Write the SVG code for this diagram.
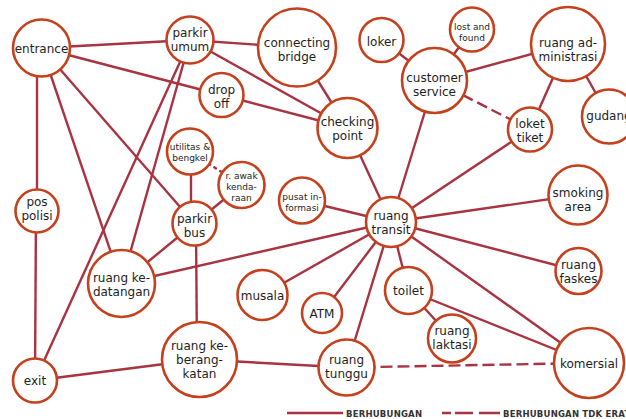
<svg xmlns="http://www.w3.org/2000/svg" width="626" height="419" viewBox="0 0 626 419">
<style>
.e{stroke:#a83341;stroke-width:2.4;fill:none}
.d{stroke-dasharray:11 5}
.n circle{fill:#fff;stroke:#c5401d;stroke-width:2.6}
text{font-family:"DejaVu Sans","Noto Sans",sans-serif;font-size:12px;text-anchor:middle;fill:#1e1e1e}
.s{font-size:9px}
.lg{font-size:8.5px;font-weight:bold;text-anchor:start;letter-spacing:0.2px;fill:#333}
</style>
<rect width="626" height="419" fill="#fff"/>
<g id="connectors">
<line class="e" x1="41.5" y1="48" x2="190" y2="40"/>
<line class="e" x1="41.5" y1="48" x2="221.5" y2="95"/>
<line class="e" x1="37" y1="48" x2="37" y2="211"/>
<line class="e" x1="41.5" y1="48" x2="121.5" y2="283.5"/>
<line class="e" x1="41.5" y1="48" x2="194.5" y2="223.5"/>
<line class="e" x1="190" y1="40" x2="297" y2="47.5"/>
<line class="e" x1="190" y1="40" x2="347.5" y2="128"/>
<line class="e" x1="190" y1="40" x2="35" y2="380.5"/>
<line class="e" x1="190" y1="40" x2="121.5" y2="283.5"/>
<line class="e" x1="297" y1="47.5" x2="347.5" y2="128"/>
<line class="e" x1="221.5" y1="95" x2="347.5" y2="128"/>
<line class="e" x1="347.5" y1="128" x2="391" y2="222"/>
<line class="e" x1="381.5" y1="40" x2="434.5" y2="80.5"/>
<line class="e" x1="472" y1="29.5" x2="434.5" y2="80.5"/>
<line class="e" x1="434.5" y1="80.5" x2="568" y2="44"/>
<line class="e d" x1="434.5" y1="80.5" x2="530" y2="129.5"/>
<line class="e" x1="434.5" y1="80.5" x2="391" y2="222"/>
<line class="e" x1="568" y1="44" x2="530" y2="129.5"/>
<line class="e" x1="568" y1="44" x2="609" y2="116.5"/>
<line class="e" x1="530" y1="129.5" x2="391" y2="222"/>
<line class="e" x1="578" y1="195" x2="391" y2="222"/>
<line class="e" x1="578.5" y1="271" x2="391" y2="222"/>
<line class="e" x1="589" y1="363" x2="391" y2="222"/>
<line class="e" x1="408.5" y1="290.5" x2="391" y2="222"/>
<line class="e" x1="408.5" y1="290.5" x2="589" y2="363"/>
<line class="e" x1="408.5" y1="290.5" x2="452" y2="338.5"/>
<line class="e" x1="322" y1="313" x2="391" y2="222"/>
<line class="e" x1="346.5" y1="367.5" x2="391" y2="222"/>
<line class="e" x1="262.5" y1="295" x2="391" y2="222"/>
<line class="e" x1="121.5" y1="283.5" x2="391" y2="222"/>
<line class="e" x1="302" y1="200.5" x2="391" y2="222"/>
<line class="e" x1="346.5" y1="367.5" x2="589" y2="363" style="stroke-dasharray:12 5"/>
<line class="e" x1="199.5" y1="359.5" x2="346.5" y2="367.5"/>
<line class="e" x1="199.5" y1="359.5" x2="35" y2="380.5"/>
<line class="e" x1="196" y1="223.5" x2="197" y2="359.5"/>
<line class="e" x1="194.5" y1="223.5" x2="121.5" y2="283.5"/>
<line class="e" x1="191" y1="151.5" x2="191" y2="223.5"/>
<line class="e" x1="241.5" y1="185" x2="194.5" y2="223.5"/>
<line class="e" x1="190" y1="151.5" x2="241.5" y2="185" style="stroke-dasharray:4 3"/>
<line class="e" x1="36" y1="211" x2="35" y2="380.5"/>
</g>
<g id="entrance" class="n"><circle cx="41.5" cy="48" r="28.5"/><text x="41.5" y="52.5">entrance</text></g>
<g id="parkir-umum" class="n"><circle cx="190" cy="40" r="23.5"/><text x="190" y="37">parkir</text><text x="190" y="51">umum</text></g>
<g id="connecting-bridge" class="n"><circle cx="297" cy="47.5" r="39"/><text x="297" y="47">connecting</text><text x="297" y="61">bridge</text></g>
<g id="drop-off" class="n"><circle cx="221.5" cy="95" r="22"/><text x="221.5" y="93.5">drop</text><text x="221.5" y="107.5">off</text></g>
<g id="checking-point" class="n"><circle cx="347.5" cy="128" r="30"/><text x="347.5" y="125.5">checking</text><text x="347.5" y="139.5">point</text></g>
<g id="loker" class="n"><circle cx="381.5" cy="40" r="22"/><text x="381.5" y="45.5">loker</text></g>
<g id="lost-and-found" class="n"><circle cx="472" cy="29.5" r="22"/><text class="s" x="472" y="29.5">lost and</text><text class="s" x="472" y="40.5">found</text></g>
<g id="customer-service" class="n"><circle cx="434.5" cy="80.5" r="32.5"/><text x="434.5" y="81.5">customer</text><text x="434.5" y="95.5">service</text></g>
<g id="ruang-administrasi" class="n"><circle cx="568" cy="44" r="37"/><text x="568" y="47">ruang ad-</text><text x="568" y="61">ministrasi</text></g>
<g id="gudang" class="n"><circle cx="609" cy="116.5" r="27"/><text x="609" y="119.5">gudang</text></g>
<g id="loket-tiket" class="n"><circle cx="530" cy="129.5" r="22"/><text x="530" y="127.5">loket</text><text x="530" y="141.5">tiket</text></g>
<g id="smoking-area" class="n"><circle cx="578" cy="195" r="29.5"/><text x="578" y="196.5">smoking</text><text x="578" y="210.5">area</text></g>
<g id="ruang-transit" class="n"><circle cx="391" cy="222" r="25"/><text x="391" y="219.5">ruang</text><text x="391" y="233.5">transit</text></g>
<g id="ruang-faskes" class="n"><circle cx="578.5" cy="271" r="23"/><text x="578.5" y="268.5">ruang</text><text x="578.5" y="282.5">faskes</text></g>
<g id="toilet" class="n"><circle cx="408.5" cy="290.5" r="23.5"/><text x="408.5" y="294.5">toilet</text></g>
<g id="ruang-laktasi" class="n"><circle cx="452" cy="338.5" r="24"/><text x="452" y="334.5">ruang</text><text x="452" y="348.5">laktasi</text></g>
<g id="komersial" class="n"><circle cx="589" cy="363" r="35"/><text x="589" y="367.5">komersial</text></g>
<g id="atm" class="n"><circle cx="322" cy="313" r="20"/><text x="322" y="317.5">ATM</text></g>
<g id="ruang-tunggu" class="n"><circle cx="346.5" cy="367.5" r="28"/><text x="346.5" y="363.5">ruang</text><text x="346.5" y="377.5">tunggu</text></g>
<g id="musala" class="n"><circle cx="262.5" cy="295" r="25"/><text x="262.5" y="299.5">musala</text></g>
<g id="ruang-keberangkatan" class="n"><circle cx="199.5" cy="359.5" r="37.5"/><text x="199.5" y="349.5">ruang ke-</text><text x="199.5" y="363.5">berang-</text><text x="199.5" y="377.5">katan</text></g>
<g id="exit" class="n"><circle cx="35" cy="380.5" r="22"/><text x="35" y="384.5">exit</text></g>
<g id="ruang-kedatangan" class="n"><circle cx="121.5" cy="283.5" r="33.5"/><text x="121.5" y="281.5">ruang ke-</text><text x="121.5" y="295.5">datangan</text></g>
<g id="parkir-bus" class="n"><circle cx="194.5" cy="223.5" r="22"/><text x="194.5" y="222.5">parkir</text><text x="194.5" y="236.5">bus</text></g>
<g id="pos-polisi" class="n"><circle cx="37" cy="211" r="21.5"/><text x="37" y="206">pos</text><text x="37" y="220">polisi</text></g>
<g id="utilitas-bengkel" class="n"><circle cx="190" cy="151.5" r="23"/><text class="s" x="190" y="150">utilitas &amp;</text><text class="s" x="190" y="161">bengkel</text></g>
<g id="r-awak-kendaraan" class="n"><circle cx="241.5" cy="185" r="23"/><text class="s" x="241.5" y="178.5">r. awak</text><text class="s" x="241.5" y="189.5">kenda-</text><text class="s" x="241.5" y="200.5">raan</text></g>
<g id="pusat-informasi" class="n"><circle cx="302" cy="200.5" r="23"/><text class="s" x="302" y="200">pusat in-</text><text class="s" x="302" y="211">formasi</text></g>
<g id="legend">
<line class="e" x1="287" y1="413" x2="343" y2="413"/>
<text class="lg" x="346" y="416.5">BERHUBUNGAN</text>
<line class="e" x1="442" y1="413" x2="500" y2="413" style="stroke-dasharray:9 4 18 6 21 10"/>
<text class="lg" x="503" y="416.5">BERHUBUNGAN TDK ERAT</text>
</g>
</svg>
